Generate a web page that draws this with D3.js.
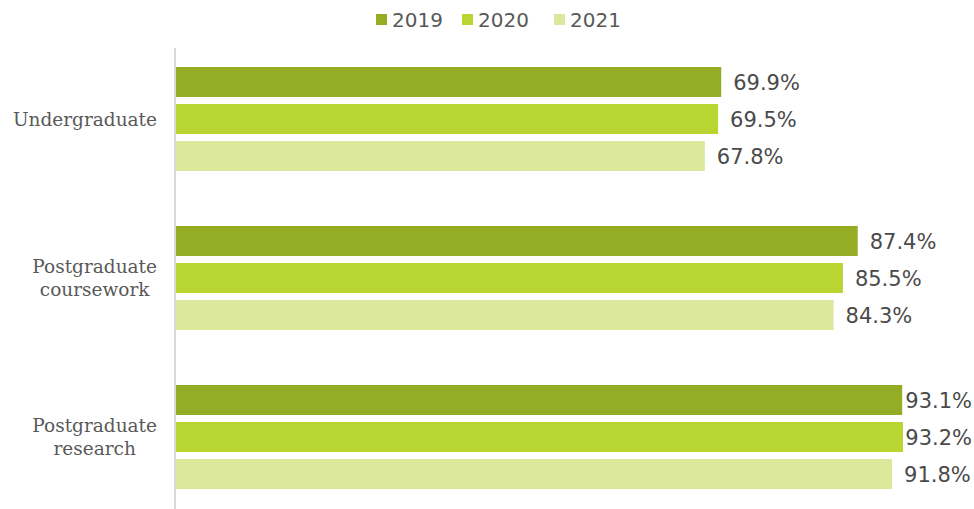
<!DOCTYPE html>
<html>
<head>
<meta charset="utf-8">
<script src="https://cdn.jsdelivr.net/npm/d3@7"></script>
<style>
  html, body { margin: 0; padding: 0; background: #fff; }
  svg { display: block; }
</style>
</head>
<body>
<svg id="chart" width="974" height="509"></svg>
<script>
const categories = ["Undergraduate", "Postgraduate coursework", "Postgraduate research"];
const categoryLines = [["Undergraduate"], ["Postgraduate", "coursework"], ["Postgraduate", "research"]];
const years = ["2019", "2020", "2021"];
const values2019 = [69.9, 87.4, 93.1];
const values2020 = [69.5, 85.5, 93.2];
const values2021 = [67.8, 84.3, 91.8];
const colors = ["#94ad24", "#b9d532", "#dbe89c"];

const seriesValues = [values2019, values2020, values2021];
const data = categories.map((c, i) => ({
  category: c,
  lines: categoryLines[i],
  values: years.map((y, j) => ({ year: y, value: seriesValues[j][i], color: colors[j] }))
}));

const svg = d3.select("#chart");
const W = 974, H = 509;
const axisX = 176;

const x = d3.scaleLinear().domain([0, 100]).range([axisX, axisX + 780]);
const y0 = d3.scaleBand().domain(categories).range([39.5, 516.5])
  .paddingInner(0.346).paddingOuter(0.173);
const y1 = d3.scaleBand().domain(years).range([0, y0.bandwidth()]).paddingInner(0.19);

// Axis line (category axis)
svg.append("line")
  .attr("x1", axisX - 1).attr("x2", axisX - 1)
  .attr("y1", 48).attr("y2", H)
  .attr("stroke", "#d9d9d9").attr("stroke-width", 2);

const groups = svg.selectAll("g.grp").data(data).enter().append("g")
  .attr("class", "grp")
  .attr("transform", d => `translate(0,${y0(d.category)})`);

groups.selectAll("rect").data(d => d.values).enter().append("rect")
  .attr("x", x(0))
  .attr("y", d => y1(d.year))
  .attr("width", d => x(d.value) - x(0))
  .attr("height", y1.bandwidth())
  .attr("fill", d => d.color);

const rightLimit = 972;
groups.selectAll("text.val").data(d => d.values).enter().append("text")
  .attr("class", "val")
  .attr("y", d => y1(d.year) + y1.bandwidth() / 2)
  .attr("dy", "0.36em")
  .attr("font-family", "DejaVu Sans, sans-serif")
  .attr("font-size", 21)
  .attr("fill", "#4a4a4a")
  .text(d => d.value.toFixed(1) + "%")
  .each(function(d) {
    const w = this.getComputedTextLength();
    const xx = Math.min(x(d.value) + 12, rightLimit - w);
    d3.select(this).attr("x", xx);
  });

// Category labels
const labelRight = 157;
const lineH = 23;
svg.selectAll("g.cat").data(data).enter().append("g")
  .attr("class", "cat")
  .each(function(d) {
    const g = d3.select(this);
    const cy = y0(d.category) + y0.bandwidth() / 2;
    const n = d.lines.length;
    const texts = d.lines.map((ln, i) => g.append("text")
      .attr("font-family", "DejaVu Serif, serif")
      .attr("font-size", 18.5)
      .attr("fill", "#595959")
      .attr("text-anchor", "middle")
      .attr("y", cy + (i - (n - 1) / 2) * lineH)
      .attr("dy", "0.36em")
      .text(ln));
    const maxW = d3.max(texts, t => t.node().getComputedTextLength());
    texts.forEach(t => t.attr("x", labelRight - maxW / 2));
  });

// Legend
const legendX = [376, 462, 554];
const legend = svg.selectAll("g.leg").data(years).enter().append("g")
  .attr("class", "leg")
  .attr("transform", (d, i) => `translate(${legendX[i]},0)`);
legend.append("rect")
  .attr("x", 0).attr("y", 14).attr("width", 11).attr("height", 11)
  .attr("fill", (d, i) => colors[i]);
legend.append("text")
  .attr("x", 16).attr("y", 20).attr("dy", "0.36em")
  .attr("font-family", "DejaVu Sans, sans-serif")
  .attr("font-size", 20)
  .attr("fill", "#595959")
  .text(d => d);
</script>
</body>
</html>
